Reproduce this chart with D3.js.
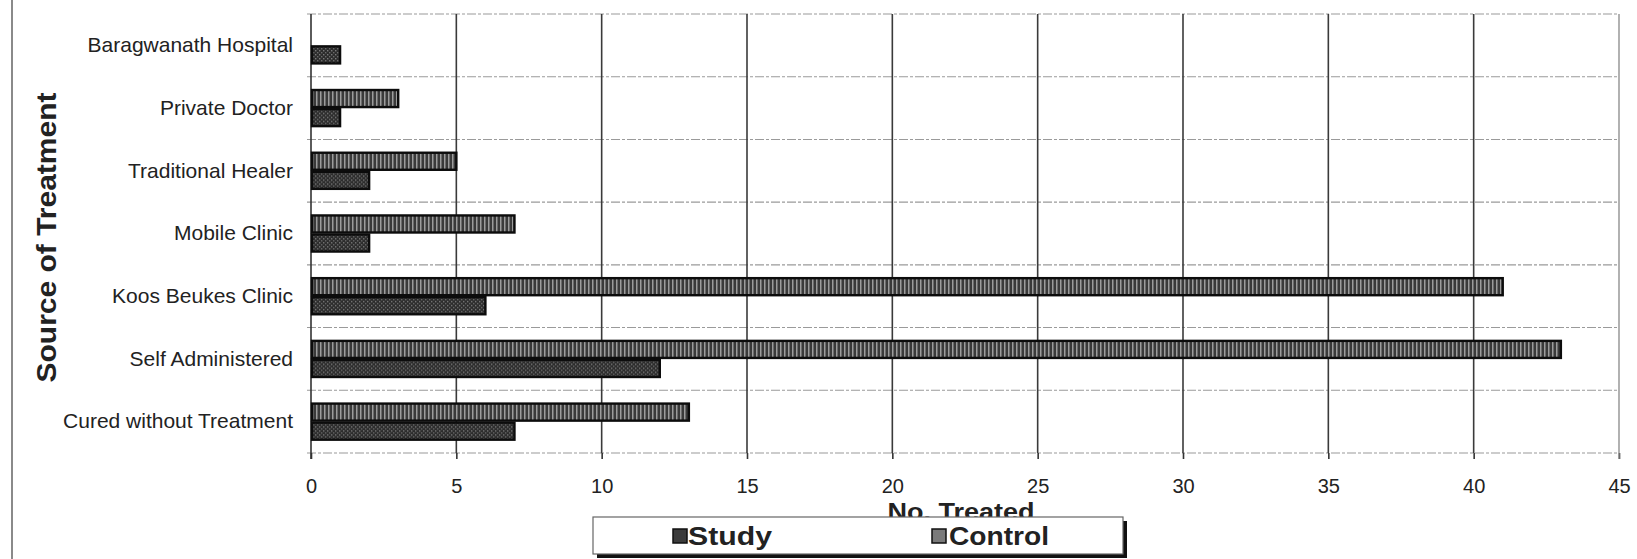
<!DOCTYPE html>
<html>
<head>
<meta charset="utf-8">
<script src="https://cdn.jsdelivr.net/npm/d3@7"></script>
<style>
  html, body { margin: 0; padding: 0; background: #fff; }
  svg { display: block; }
  text { font-family: "Liberation Sans", Arial, sans-serif; fill: #222; }
</style>
</head>
<body>
<svg id="chart" width="1637" height="559"></svg>
<script>
// ---- data ----
const categories = ["Baragwanath Hospital", "Private Doctor", "Traditional Healer", "Mobile Clinic",
                    "Koos Beukes Clinic", "Self Administered", "Cured without Treatment"];
const seriesNames = ["Control", "Study"];
const controlValues = [0, 3, 5, 7, 41, 43, 13];
const studyValues   = [1, 1, 2, 2, 6, 12, 7];
const xTicks = [0, 5, 10, 15, 20, 25, 30, 35, 40, 45];
const xTitle = "No. Treated";
const yTitle = "Source of Treatment";
const legendItems = ["Study", "Control"];

// ---- layout ----
const W = 1637, H = 559;
const m = { left: 311, right: 18, top: 14, bottom: 106 };
const innerW = W - m.left - m.right, innerH = H - m.top - m.bottom;

const svg = d3.select("#chart");
const defs = svg.append("defs");

// Control: vertical stripes
const pc = defs.append("pattern").attr("id", "pControl").attr("patternUnits", "userSpaceOnUse")
  .attr("width", 4).attr("height", 4);
pc.append("rect").attr("width", 4).attr("height", 4).attr("fill", "#3a3a3a");
pc.append("rect").attr("x", 1).attr("width", 1.5).attr("height", 4).attr("fill", "#9c9c9c");

// Study: dotted
const ps = defs.append("pattern").attr("id", "pStudy").attr("patternUnits", "userSpaceOnUse")
  .attr("width", 4).attr("height", 4);
ps.append("rect").attr("width", 4).attr("height", 4).attr("fill", "#2c2c2c");
ps.append("rect").attr("x", 0).attr("y", 0).attr("width", 1.4).attr("height", 1.4).attr("fill", "#7a7a7a");
ps.append("rect").attr("x", 2).attr("y", 2).attr("width", 1.4).attr("height", 1.4).attr("fill", "#6a6a6a");

const fills = { Control: "url(#pControl)", Study: "url(#pStudy)" };
const legendFills = { Study: "#3c3c3c", Control: "#7a7a7a" };

// left page border
svg.append("line").attr("x1", 12).attr("x2", 12).attr("y1", 0).attr("y2", H)
  .attr("stroke", "#8a8a8a").attr("stroke-width", 2);

const g = svg.append("g").attr("transform", `translate(${m.left},${m.top})`);

const x = d3.scaleLinear().domain([0, 45]).range([0, innerW]);
const y = d3.scaleBand().domain(categories).range([0, innerH]).padding(0);
const bw = y.bandwidth();
const ySub = d3.scaleBand().domain(seriesNames).range([12.3, bw - 12.3]).padding(0);

// horizontal grid lines at band boundaries
const bounds = categories.map(c => y(c)).concat([innerH]);
g.append("g").selectAll("line").data(bounds).join("line")
  .attr("x1", -4).attr("x2", innerW)
  .attr("y1", d => d).attr("y2", d => d)
  .attr("stroke", "#9a9a9a").attr("stroke-width", 1.1)
  .attr("stroke-dasharray", "9,2,3,2");

// vertical grid lines + x axis
const xAxis = d3.axisBottom(x).tickValues(xTicks).tickSize(6).tickPadding(20).tickFormat(d3.format("d"));
const xg = g.append("g").attr("transform", `translate(0,${innerH})`).call(xAxis);
xg.select(".domain").remove();
xg.selectAll(".tick line").attr("stroke", "#333").attr("stroke-width", 1.6);
xg.selectAll(".tick text").attr("font-size", 20).attr("fill", "#2a2a2a")
  .style("font-family", "'Liberation Sans', Arial, sans-serif");

g.append("g").selectAll("line").data(xTicks.filter(d => d > 0 && d < 45)).join("line")
  .attr("x1", d => x(d)).attr("x2", d => x(d)).attr("y1", 0).attr("y2", innerH)
  .attr("stroke", "#3a3a3a").attr("stroke-width", 1.6);
// right border
g.append("line").attr("x1", x(45)).attr("x2", x(45)).attr("y1", 0).attr("y2", innerH + 6)
  .attr("stroke", "#888").attr("stroke-width", 1.3);
// left axis line
g.append("line").attr("x1", 0).attr("x2", 0).attr("y1", 0).attr("y2", innerH + 6)
  .attr("stroke", "#333").attr("stroke-width", 1.6);

// category labels
const yAxis = d3.axisLeft(y).tickSize(0).tickPadding(18);
const yg = g.append("g").call(yAxis);
yg.select(".domain").remove();
yg.selectAll(".tick text").attr("font-size", 21).attr("fill", "#2a2a2a")
  .style("font-family", "'Liberation Sans', Arial, sans-serif");

// bars
const rows = categories.map((c, i) => ({ cat: c, Control: controlValues[i], Study: studyValues[i] }));
const barG = g.append("g").selectAll("g").data(rows).join("g")
  .attr("transform", d => `translate(0,${y(d.cat)})`);
barG.selectAll("rect")
  .data(d => seriesNames.map(s => ({ s, v: d[s] })).filter(e => e.v > 0))
  .join("rect")
  .attr("x", x(0) + 1)
  .attr("y", d => ySub(d.s) + 1)
  .attr("width", d => x(d.v) - x(0) - 1)
  .attr("height", ySub.bandwidth() - 2)
  .attr("fill", d => fills[d.s])
  .attr("stroke", "#0c0c0c").attr("stroke-width", 2.4);

// y title
svg.append("text")
  .attr("transform", `translate(56,${m.top + innerH / 2 + 4}) rotate(-90)`)
  .attr("text-anchor", "middle")
  .attr("font-size", 28).attr("font-weight", "bold").attr("fill", "#222")
  .attr("textLength", 290).attr("lengthAdjust", "spacingAndGlyphs")
  .text(yTitle);

// x title (partly hidden under legend)
svg.append("text")
  .attr("x", m.left + innerW / 2 - 4).attr("y", 520)
  .attr("text-anchor", "middle")
  .attr("font-size", 24).attr("font-weight", "bold").attr("fill", "#222")
  .attr("textLength", 147).attr("lengthAdjust", "spacingAndGlyphs")
  .text(xTitle);

// legend
const lg = svg.append("g");
lg.append("rect").attr("x", 597).attr("y", 521).attr("width", 530).attr("height", 37).attr("fill", "#111");
lg.append("rect").attr("x", 593).attr("y", 517).attr("width", 530).attr("height", 37)
  .attr("fill", "#fff").attr("stroke", "#666").attr("stroke-width", 1.2);

const legendPos = { Study: { sx: 673, tx: 688, tl: 84 }, Control: { sx: 932, tx: 949, tl: 100 } };
legendItems.forEach(name => {
  const p = legendPos[name];
  lg.append("rect").attr("x", p.sx).attr("y", 529).attr("width", 14).attr("height", 14)
    .attr("fill", legendFills[name]).attr("stroke", "#111").attr("stroke-width", 1.5);
  lg.append("text").attr("x", p.tx).attr("y", 545)
    .attr("font-size", 25).attr("font-weight", "bold").attr("fill", "#222")
    .attr("textLength", p.tl).attr("lengthAdjust", "spacingAndGlyphs")
    .text(name);
});
</script>
</body>
</html>
